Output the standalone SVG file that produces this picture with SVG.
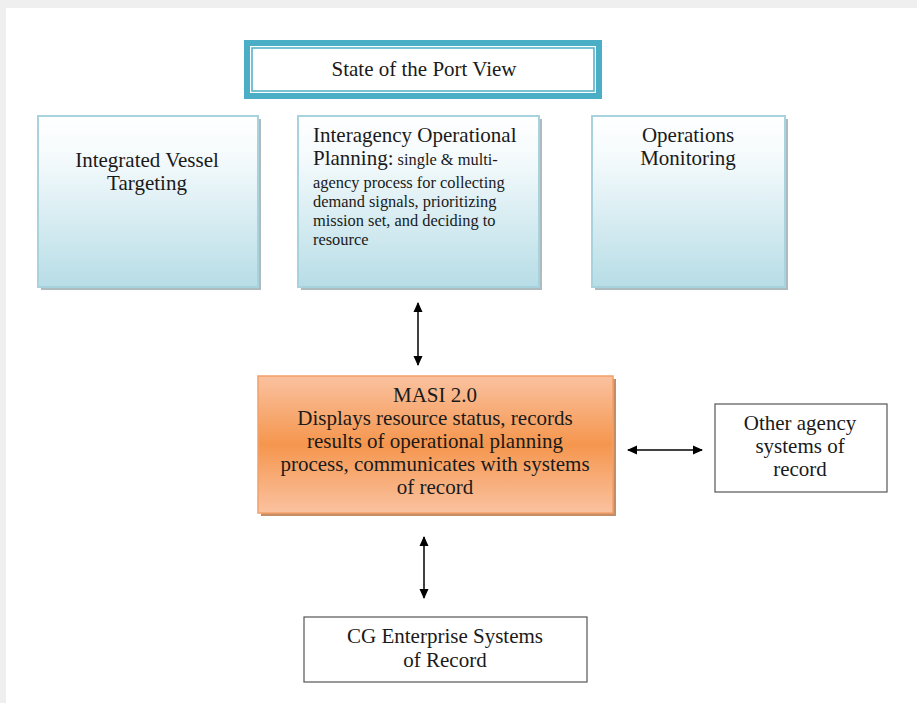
<svg xmlns="http://www.w3.org/2000/svg" width="917" height="703" viewBox="0 0 917 703">
<defs>
<linearGradient id="blueGrad" x1="0" y1="0" x2="0" y2="1">
<stop offset="0" stop-color="#ffffff"/>
<stop offset="0.25" stop-color="#f4fafc"/>
<stop offset="1" stop-color="#b7dde6"/>
</linearGradient>
<linearGradient id="orangeGrad" x1="0" y1="0" x2="0" y2="1">
<stop offset="0" stop-color="#fac2a0"/>
<stop offset="0.5" stop-color="#f5964e"/>
<stop offset="1" stop-color="#fac2a0"/>
</linearGradient>
<marker id="ah" markerWidth="10" markerHeight="10" refX="9" refY="5" orient="auto-start-reverse" markerUnits="userSpaceOnUse">
<path d="M0,0.5 L10,5 L0,9.5 Z" fill="#000"/>
</marker>
<style>
.t{font-family:"Liberation Serif","Times New Roman",serif;fill:#1a1a1a;}
.big{font-size:21px;}
.sm{font-size:16.4px;}
.blue{fill:url(#blueGrad);stroke:#a8d3de;stroke-width:2;}
.shadow{fill:#8c9ea3;opacity:0.7;}
.plain{fill:#fff;stroke:#555;stroke-width:1.2;}
.conn{stroke:#000;stroke-width:1.5;fill:none;marker-start:url(#ah);marker-end:url(#ah);}
</style>
</defs>
<rect width="917" height="703" fill="#efefef"/>
<rect x="6" y="8" width="911" height="695" fill="#ffffff"/>

<g id="state-of-port">
<rect x="244" y="40" width="358" height="59" fill="#4aaec6"/>
<rect x="250" y="46" width="346" height="47" fill="#ffffff"/>
<rect x="252" y="48" width="342" height="43" fill="none" stroke="#4aaec6" stroke-width="1.5"/>
<text class="t big" x="424" y="76" text-anchor="middle">State of the Port View</text>
</g>

<g id="integrated-vessel">
<rect class="shadow" x="41" y="119" width="220" height="171"/>
<rect class="blue" x="38" y="116" width="220" height="171"/>
<text class="t big" x="147" y="167" text-anchor="middle">Integrated Vessel</text>
<text class="t big" x="147" y="190" text-anchor="middle">Targeting</text>
</g>

<g id="interagency">
<rect class="shadow" x="301" y="119" width="241" height="171"/>
<rect class="blue" x="298" y="116" width="241" height="171"/>
<text class="t big" x="313" y="142">Interagency Operational</text>
<text class="t" x="313" y="165"><tspan class="big">Planning:</tspan><tspan class="sm"> single &amp; multi-</tspan></text>
<text class="t sm" x="313" y="188">agency process  for  collecting</text>
<text class="t sm" x="313" y="207">demand signals, prioritizing</text>
<text class="t sm" x="313" y="226">mission  set, and deciding to</text>
<text class="t sm" x="313" y="245">resource</text>
</g>

<g id="operations-monitoring">
<rect class="shadow" x="595" y="119" width="193" height="171"/>
<rect class="blue" x="592" y="116" width="193" height="171"/>
<text class="t big" x="688" y="142" text-anchor="middle">Operations</text>
<text class="t big" x="688" y="165" text-anchor="middle">Monitoring</text>
</g>

<g id="masi">
<rect x="261" y="379" width="355" height="137" fill="#b5713f" opacity="0.8"/>
<rect x="258" y="376" width="355" height="137" fill="url(#orangeGrad)" stroke="#f2a068" stroke-width="1.5"/>
<text class="t big" x="435" y="402" text-anchor="middle">MASI 2.0</text>
<text class="t big" x="435" y="425" text-anchor="middle">Displays resource status, records</text>
<text class="t big" x="435" y="448" text-anchor="middle">results of operational planning</text>
<text class="t big" x="435" y="471" text-anchor="middle">process, communicates with systems</text>
<text class="t big" x="435" y="494" text-anchor="middle">of record</text>
</g>

<g id="other-agency">
<rect class="plain" x="715" y="404" width="172" height="88"/>
<text class="t big" x="800" y="430" text-anchor="middle">Other agency</text>
<text class="t big" x="800" y="453" text-anchor="middle">systems of</text>
<text class="t big" x="800" y="476" text-anchor="middle">record</text>
</g>

<g id="cg-enterprise">
<rect class="plain" x="304" y="617" width="283" height="65"/>
<text class="t big" x="445" y="643" text-anchor="middle">CG Enterprise Systems</text>
<text class="t big" x="445" y="667" text-anchor="middle">of Record</text>
</g>

<g id="connectors">
<line class="conn" x1="418" y1="303" x2="418" y2="365"/>
<line class="conn" x1="628" y1="450" x2="702" y2="450"/>
<line class="conn" x1="424" y1="537" x2="424" y2="598"/>
</g>
</svg>
